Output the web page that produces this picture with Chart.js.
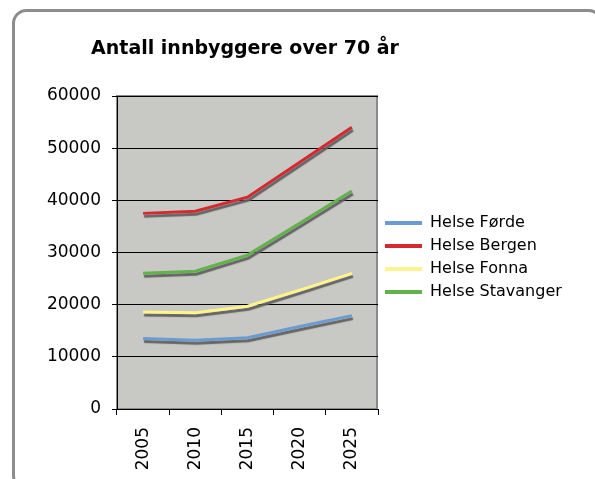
<!DOCTYPE html>
<html><head><meta charset="utf-8">
<script src="https://cdn.jsdelivr.net/npm/chart.js@4.4.1/dist/chart.umd.min.js"></script>
<style>html,body{margin:0;padding:0;background:#fff;overflow:hidden;}</style>
</head><body>
<canvas id="c" width="595" height="479" style="display:block;width:595px;height:479px"></canvas>
<script>
const titleText = 'Antall innbyggere over 70 år';
const years = ['2005', '2010', '2015', '2020', '2025'];
const seriesNames = ['Helse Førde', 'Helse Bergen', 'Helse Fonna', 'Helse Stavanger'];
const helseForde = [13500, 13200, 13650, 15800, 17900];
const helseBergen = [37500, 37900, 40600, 47300, 54000];
const helseFonna = [18600, 18450, 19700, 22800, 26000];
const helseStavanger = [26000, 26400, 29500, 35600, 41800];
const yMin = 0, yMax = 60000, yStep = 10000;
const seriesColors = ['#6C9BD2', '#D42A2F', '#FFF38C', '#62B24B'];

const seriesValues = [helseForde, helseBergen, helseFonna, helseStavanger];

Chart.defaults.font.family = 'DejaVu Sans';
Chart.defaults.color = '#000';

const decor = {
  id: 'decor',
  beforeDraw(chart) {
    const ctx = chart.ctx, a = chart.chartArea;
    ctx.save();
    ctx.fillStyle = '#fff';
    ctx.fillRect(0, 0, chart.width, chart.height);
    ctx.strokeStyle = '#8c8c8c';
    ctx.lineWidth = 3;
    ctx.beginPath();
    ctx.roundRect(13.5, 10.5, 588, 478, 13);
    ctx.stroke();
    ctx.fillStyle = '#C8C8C4';
    ctx.fillRect(a.left, a.top, a.right - a.left, a.bottom - a.top);
    ctx.strokeStyle = '#8a8a8a';
    ctx.lineWidth = 2;
    ctx.strokeRect(a.left, a.top, a.right - a.left - 1, a.bottom - a.top);
    // chart title
    ctx.fillStyle = '#000';
    ctx.font = 'bold 19px "DejaVu Sans"';
    ctx.textAlign = 'center';
    ctx.textBaseline = 'middle';
    ctx.fillText(titleText, 245, 49);
    ctx.restore();
  },
  beforeDatasetsDraw(chart) {
    const ctx = chart.ctx;
    ctx.save();
    ctx.shadowColor = 'rgba(95,95,95,0.95)';
    ctx.shadowOffsetX = 1;
    ctx.shadowOffsetY = 3;
    ctx.shadowBlur = 1;
  },
  afterDatasetsDraw(chart) {
    chart.ctx.restore();
  }
};

new Chart(document.getElementById('c'), {
  type: 'line',
  data: {
    labels: years,
    datasets: seriesNames.map((n, i) => ({
      label: n,
      data: seriesValues[i],
      borderColor: seriesColors[i],
      backgroundColor: seriesColors[i],
      borderWidth: 3,
      pointRadius: 0,
      pointHoverRadius: 0,
      tension: 0,
      fill: false
    }))
  },
  options: {
    responsive: false,
    animation: false,
    events: [],
    layout: { padding: { left: 20, right: 27, top: 96, bottom: 0 } },
    plugins: {
      title: { display: false },
      legend: {
        position: 'right',
        fullSize: false,
        maxWidth: 190,
        title: { display: true, text: ' ', font: { size: 10, lineHeight: 1 }, padding: 0 },
        labels: {
          font: { size: 16 },
          color: '#000',
          boxWidth: 37,
          boxHeight: 4,
          padding: 7,
          generateLabels(chart) {
            const items = Chart.defaults.plugins.legend.labels.generateLabels(chart);
            items.forEach(it => { it.lineWidth = 0; it.fillStyle = it.strokeStyle; });
            return items;
          }
        }
      },
      tooltip: { enabled: false }
    },
    scales: {
      x: {
        type: 'category',
        offset: true,
        grid: { display: true, drawOnChartArea: false, drawTicks: true, tickLength: 6, offset: true, color: '#000' },
        border: { color: '#000', width: 1 },
        ticks: { minRotation: 90, maxRotation: 90, padding: 12, font: { size: 17 }, color: '#000' },
        afterFit(s) { s.height = 70; }
      },
      y: {
        min: yMin,
        max: yMax,
        grid: { color: '#000', lineWidth: 1, tickLength: 5 },
        border: { color: '#000', width: 1 },
        ticks: { stepSize: yStep, padding: 11, font: { size: 17 }, color: '#000', callback: v => String(v) },
        afterFit(s) { s.width = 97; }
      }
    }
  },
  plugins: [decor]
});
</script>
</body></html>
